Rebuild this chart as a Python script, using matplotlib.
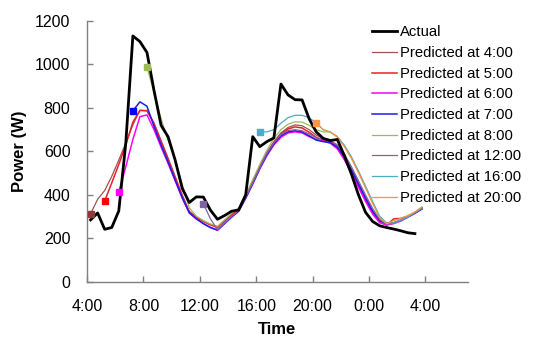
import numpy as np
import matplotlib
matplotlib.use("Agg")
import matplotlib.pyplot as plt

plt.rcParams['font.family'] = ['Liberation Sans', 'DejaVu Sans']

# -----------------------------
# DATA (half-hour samples, hours counted from 0:00 of day 1)
# -----------------------------
actual = [285, 317, 242, 250, 326, 640, 1131, 1105, 1055, 880, 720, 667,
          560, 430, 365, 391, 390, 330, 288, 305, 325, 331, 400, 668,
          622, 645, 662, 910, 860, 838, 837, 750, 690, 660, 650, 655,
          580, 495, 400, 320, 278, 258, 250, 243, 235, 226, 222]

pred_4 = [313, 380, 420, 485, 560, 640, 722, 790, 786, 730, 650, 570,
          485, 400, 325, 298, 280, 265, 253, 282, 310, 335, 395, 462,
          532, 595, 645, 685, 710, 722, 718, 700, 675, 660, 650, 625,
          580, 520, 455, 390, 330, 280, 262, 272, 285, 300, 320, 340]
pred_5 = [372, 455, 540, 630, 735, 788, 788, 728, 645, 562, 478, 395,
          322, 296, 278, 262, 250, 280, 308, 333, 392, 458, 528, 590,
          640, 680, 703, 713, 708, 688, 665, 652, 645, 615, 565, 505,
          440, 375, 318, 275, 262, 290, 292, 302, 318, 338]
pred_6 = [414, 530, 655, 760, 768, 700, 620, 545, 465, 385, 317, 290,
          268, 250, 238, 268, 298, 325, 385, 450, 520, 580, 630, 665,
          685, 690, 685, 668, 655, 648, 638, 612, 562, 500, 435, 370,
          312, 272, 262, 268, 280, 298, 318, 338]
pred_7 = [787, 828, 808, 715, 630, 550, 468, 388, 318, 290, 268, 250,
          238, 268, 298, 325, 385, 452, 522, 585, 635, 672, 690, 695,
          690, 672, 652, 645, 640, 620, 575, 515, 450, 385, 325, 282,
          270, 272, 282, 298, 315, 335]
pred_8 = [989, 870, 750, 650, 560, 450, 340, 302, 282, 266, 255, 285,
          315, 340, 400, 470, 540, 605, 660, 700, 725, 736, 735, 720,
          700, 690, 690, 668, 625, 570, 505, 435, 365, 298, 268, 270,
          282, 298, 318, 338]
pred_12 = [360, 290, 240, 270, 300, 328, 388, 455, 525, 590, 640, 678,
           696, 700, 695, 680, 662, 655, 650, 630, 588, 530, 465, 400,
           338, 288, 265, 270, 282, 298, 318, 338]
pred_16 = [690, 690, 700, 730, 755, 766, 766, 755, 730, 700, 688, 668,
           628, 575, 510, 440, 370, 302, 270, 272, 285, 300, 320, 342]
pred_20 = [731, 700, 690, 665, 622, 568, 502, 432, 362, 296, 268, 282,
           292, 305, 322, 345]

start_hours = [4, 5, 6, 7, 8, 12, 16, 20]
predictions = [pred_4, pred_5, pred_6, pred_7, pred_8, pred_12, pred_16, pred_20]
line_colors = ['#A0524F', '#E8202A', '#FF00FF', '#1E1EE6',
               '#9BBB59', '#8064A2', '#4BACC6', '#F79646']
marker_colors = ['#8B3A3A', '#FF0000', '#FF00FF', '#0000FF',
                 '#9BBB59', '#8064A2', '#4BACC6', '#F79646']
line_widths = [0.9, 1.1, 1.1, 1.1, 0.9, 0.9, 0.9, 0.9]

x_ticks = [4, 8, 12, 16, 20, 24, 28]
y_ticks = [0, 200, 400, 600, 800, 1000, 1200]

# -----------------------------
# VISUALIZATION
# -----------------------------
fig = plt.figure(figsize=(5.34, 3.38), dpi=100)
ax = fig.add_axes([0.163, 0.166, 0.713, 0.772])

t_actual = 4.25 + 0.5 * np.arange(len(actual))
ax.plot(t_actual, actual, color='black', lw=2.0, label='Actual', zorder=5)

for h, vals, c, mc, lw in zip(start_hours, predictions, line_colors,
                              marker_colors, line_widths):
    t = h + 0.25 + 0.5 * np.arange(len(vals))
    ax.plot(t, vals, color=c, lw=lw, label=f'Predicted at {h}:00', zorder=4)
    ax.plot(t[:1], vals[:1], 's', color=mc, ms=4.5, zorder=6)

ax.set_xlim(4, 31)
ax.set_ylim(0, 1200)
ax.set_xticks(x_ticks)
ax.set_xticklabels([f'{h % 24}:00' for h in x_ticks])
ax.set_yticks(y_ticks)

for side in ['top', 'right']:
    ax.spines[side].set_visible(False)
for side in ['left', 'bottom']:
    ax.spines[side].set_color('#808080')
    ax.spines[side].set_linewidth(1.0)
ax.tick_params(direction='in', length=4, width=1, color='#808080',
               labelsize=11.5, pad=12)

ax.set_xlabel('Time', fontsize=12, fontweight='bold', labelpad=6)
ax.set_ylabel('Power (W)', fontsize=12, fontweight='bold', labelpad=6)

fig.legend(loc='upper left', bbox_to_anchor=(0.697, 0.925), frameon=False,
           fontsize=10.7, handlelength=1.7, handletextpad=0.2,
           labelspacing=0.45, borderaxespad=0, borderpad=0)

fig.savefig('out.png', dpi=100)
